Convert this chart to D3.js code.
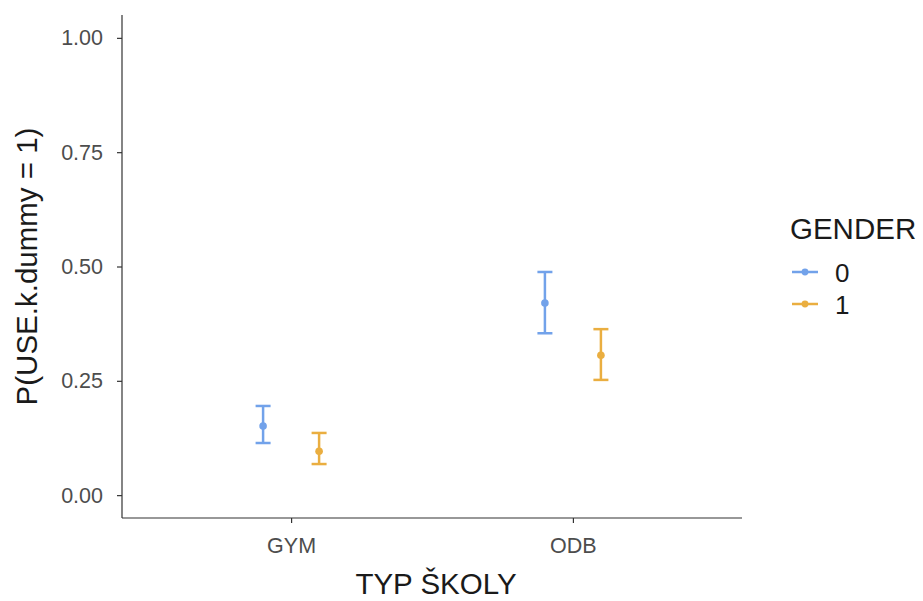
<!DOCTYPE html>
<html><head><meta charset="utf-8">
<script src="https://cdn.jsdelivr.net/npm/d3@7"></script>
<style>body{margin:0;background:#fff;} svg{display:block;font-family:"Liberation Sans",Arial,sans-serif;}</style>
</head><body>
<svg id="c" width="923" height="601"></svg>
<script>
const categories = ["GYM", "ODB"];
const genders = ["0", "1"];
const estimate0 = [0.151, 0.420];
const lower0 = [0.114, 0.354];
const upper0 = [0.195, 0.488];
const estimate1 = [0.096, 0.306];
const lower1 = [0.068, 0.252];
const upper1 = [0.136, 0.363];
const yTicks = [0, 0.25, 0.5, 0.75, 1.0];
const colors = ["#72a2ea", "#eaae40"];

const series = [
  {g: genders[0], est: estimate0, lo: lower0, hi: upper0},
  {g: genders[1], est: estimate1, lo: lower1, hi: upper1}
];

const svg = d3.select("#c");
const L = 122, R = 742, T = 15, B = 518;
const y = d3.scaleLinear().domain([-0.05, 1.05]).range([B, T]);
const x = d3.scalePoint().domain(categories).range([L, R]).padding(0.6);
const dodge = d3.scalePoint().domain(genders).range([-28, 28]);
const col = d3.scaleOrdinal().domain(genders).range(colors);

// axes
const yAxis = d3.axisLeft(y).tickValues(yTicks).tickFormat(d3.format(".2f")).tickSize(5).tickPadding(14);
const gy = svg.append("g").attr("transform", `translate(${L},0)`).call(yAxis);
const xAxis = d3.axisBottom(x).tickSize(5).tickPadding(4);
const gx = svg.append("g").attr("transform", `translate(0,${B})`).call(xAxis);
[gy, gx].forEach(g => {
  g.attr("font-size", null).attr("font-family", null);
  g.select(".domain").attr("stroke", "#333").attr("stroke-width", 1.2);
  g.selectAll(".tick line").attr("stroke", "#333").attr("stroke-width", 1.2);
  g.selectAll(".tick text").attr("fill", "#4d4d4d").style("font-size", "21.5px");
});
gy.select(".domain").attr("d", `M0,${T}V${B}`);
gx.select(".domain").attr("d", `M${L},0H${R}`);
gx.selectAll(".tick text").attr("dy", null).attr("y", 35);

// error bars
series.forEach(s => {
  const g = svg.append("g");
  categories.forEach((c, i) => {
    const cx = x(c) + dodge(s.g);
    const color = col(s.g);
    g.append("line").attr("x1", cx).attr("x2", cx).attr("y1", y(s.lo[i])).attr("y2", y(s.hi[i]))
      .attr("stroke", color).attr("stroke-width", 2.5);
    [s.lo[i], s.hi[i]].forEach(v => {
      g.append("line").attr("x1", cx - 7.5).attr("x2", cx + 7.5).attr("y1", y(v)).attr("y2", y(v))
        .attr("stroke", color).attr("stroke-width", 2.5);
    });
    g.append("circle").attr("cx", cx).attr("cy", y(s.est[i])).attr("r", 3.8).attr("fill", color);
  });
});

// axis titles
svg.append("text").attr("x", (L + R) / 2 + 4).attr("y", 594).attr("text-anchor", "middle")
  .style("font-size", "29.5px").attr("fill", "#1a1a1a").text("TYP ŠKOLY");
svg.append("text").attr("transform", `translate(37,${(T + B) / 2}) rotate(-90)`).attr("text-anchor", "middle")
  .style("font-size", "29.5px").attr("fill", "#1a1a1a").text("P(USE.k.dummy = 1)");

// legend
const lg = svg.append("g");
lg.append("text").attr("x", 790).attr("y", 239).style("font-size", "29.5px").attr("fill", "#1a1a1a").text("GENDER");
genders.forEach((gname, i) => {
  const cy = 272 + i * 32;
  lg.append("line").attr("x1", 792).attr("x2", 818).attr("y1", cy).attr("y2", cy).attr("stroke", col(gname)).attr("stroke-width", 2.5);
  lg.append("circle").attr("cx", 805).attr("cy", cy).attr("r", 3.4).attr("fill", col(gname));
  lg.append("text").attr("x", 835).attr("y", cy + 10).style("font-size", "26px").attr("fill", "#1a1a1a").text(gname);
});
</script>
</body></html>
